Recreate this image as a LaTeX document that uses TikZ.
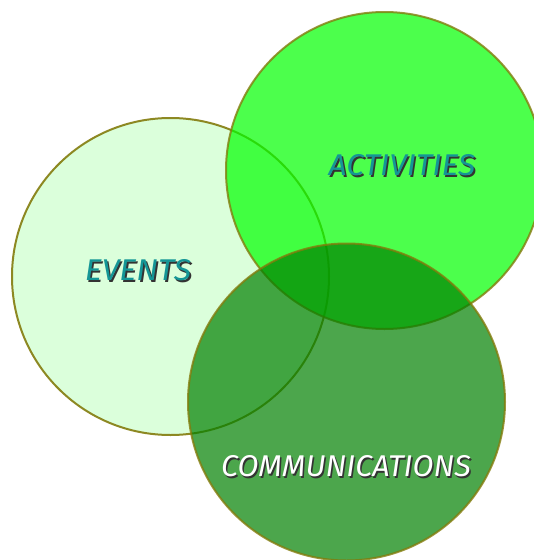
\documentclass[tikz,border=0pt]{standalone}
\usepackage{fontspec}
\setmainfont{Fira Sans}
\newcommand{\shadowed}[2]{\rlap{\kern1.5pt\raisebox{-1.8pt}{\textcolor{black!80}{#2}}}\textcolor{#1}{#2}}
\definecolor{tealtxt}{RGB}{20,150,150}
\begin{document}
\begin{tikzpicture}[x=1pt,y=-1pt,
  ring/.style={draw=olive!90!black, line width=2pt, draw opacity=0.9},
  lbl/.style={font=\fontsize{30}{30}\selectfont\itshape, inner sep=0pt},
]
\useasboundingbox (0,0) rectangle (534,560);
\begin{scope}
\clip (0,0) rectangle (534,560);
% events
\path[ring, fill={rgb,255:red,219;green,255;blue,219}] (170.5,276.5) circle[radius=158.5];
% activities
\path[ring, fill={rgb,255:red,0;green,255;blue,0}, fill opacity=0.7, draw opacity=0.8] (384.5,170.5) circle[radius=158.5];
% communications
\path[ring, fill={rgb,255:red,0;green,128;blue,0}, fill opacity=0.7, draw opacity=0.8] (346.5,402) circle[radius=158.5];
\end{scope}
% labels
\node[lbl, xscale=1.07] (ev) at (138,271.5) {\shadowed{tealtxt}{EVENTS}};
\node[lbl, xscale=1.06] (ac) at (402,166) {\shadowed{tealtxt}{ACTIVITIES}};
\node[lbl, xscale=1.02] (co) at (346,467.5) {\shadowed{white}{COMMUNICATIONS}};
\end{tikzpicture}
\end{document}
